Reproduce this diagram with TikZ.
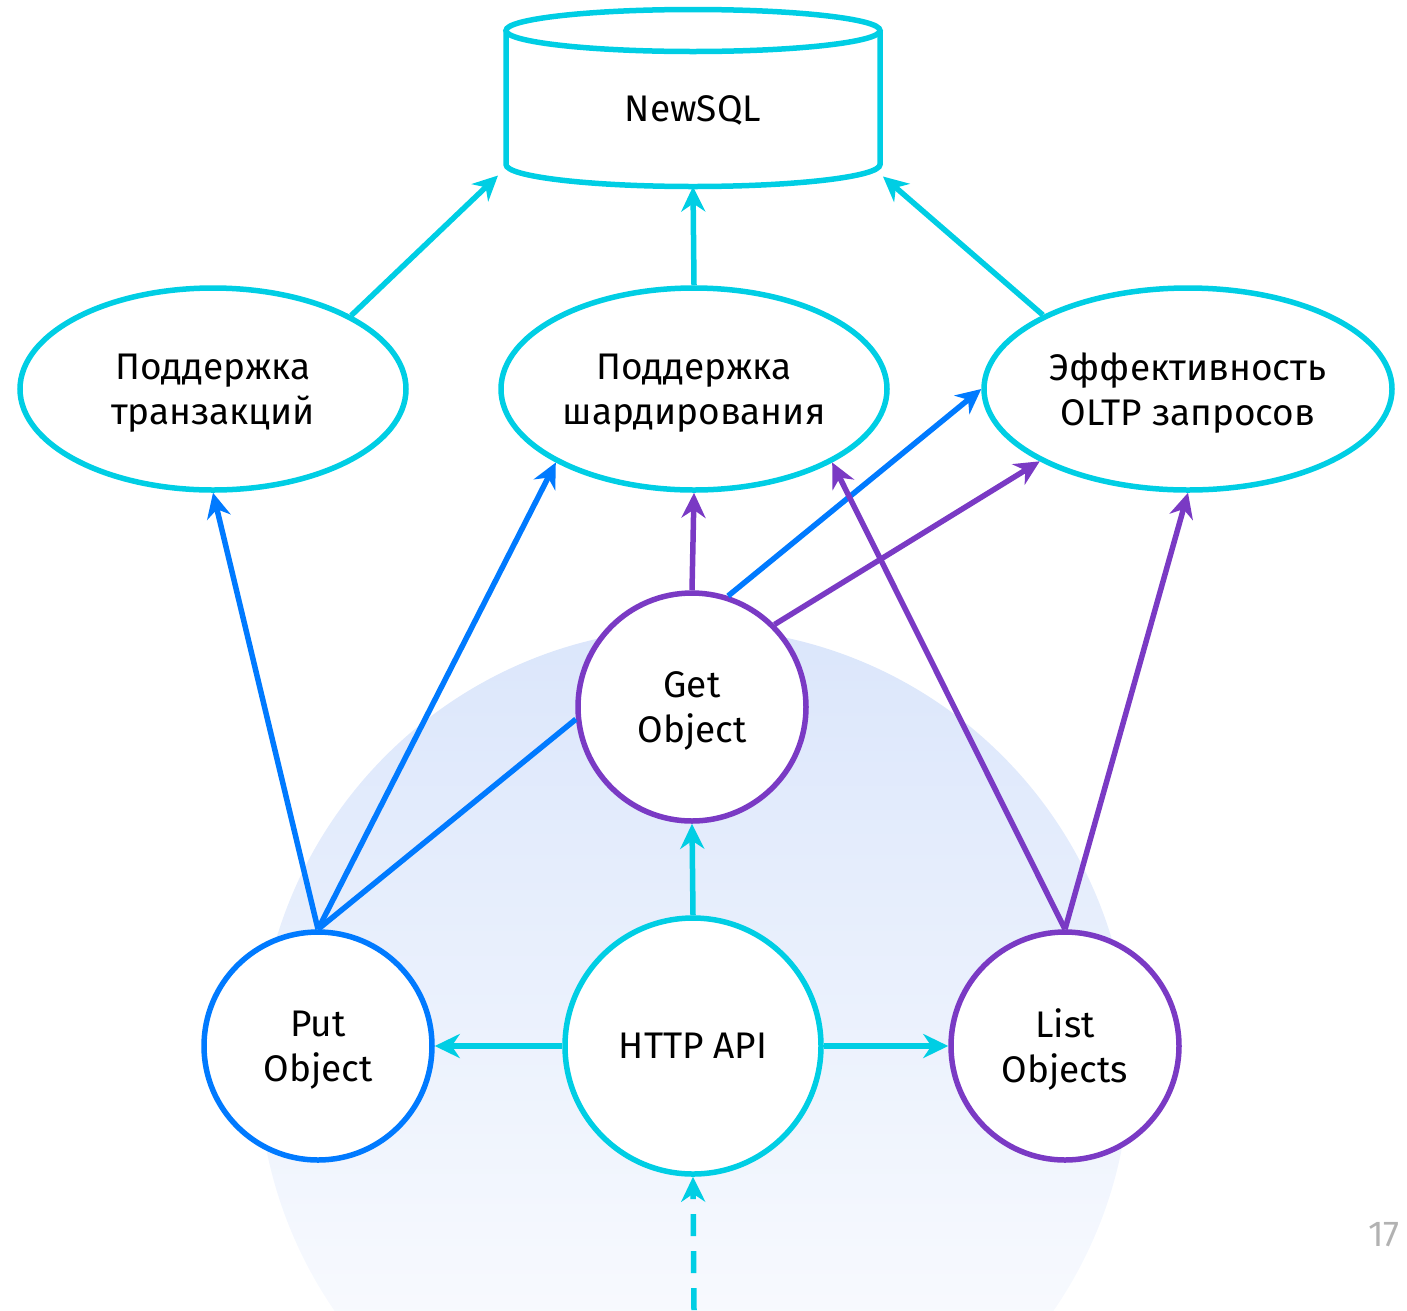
\documentclass[tikz,border=0pt]{standalone}
\usepackage{fontspec}
\setmainfont{Fira Sans}
\usetikzlibrary{arrows.meta,shapes.geometric}

\definecolor{apicyan}{RGB}{0,206,228}
\definecolor{apiblue}{RGB}{0,122,255}
\definecolor{apiviolet}{RGB}{122,58,196}
\definecolor{pagegray}{RGB}{178,178,178}
\definecolor{bgtop}{RGB}{219,230,251}

\begin{document}
\begin{tikzpicture}[x=1pt,y=-1pt,>={Stealth[length=25pt,width=24pt,inset=8pt]},
  link/.style={line width=5.5pt,->},
  feature/.style={ellipse,draw=apicyan,line width=5.5pt,fill=white,
    minimum height=202pt,inner sep=0pt,align=center,text depth=0pt},
  op/.style={circle,draw,line width=5.5pt,fill=white,
    minimum size=228pt,inner sep=0pt,align=center,text depth=0pt},
  every node/.style={font=\fontsize{37}{45}\selectfont}]
  \useasboundingbox (0,0) rectangle (1407,1310);

  % soft round backdrop behind the API nodes
  \begin{scope}
    \clip (0,0) rectangle (1407,1310);
    \shade[top color=bgtop,bottom color=white] (694,1064) circle[radius=436pt];
  \end{scope}

  % storage on top
  \node[minimum width=374pt,minimum height=177pt,inner sep=0pt,outer sep=0pt,
    text height=46pt,text depth=0pt] (newsql) at (693,98) {NewSQL};
  \draw[apicyan,line width=5.5pt] ([yshift=-21pt]newsql.north)
    ellipse[x radius=187pt,y radius=21pt];
  \draw[apicyan,line width=5.5pt] ([yshift=-21pt]newsql.north west)
    -- ([yshift=22pt]newsql.south west)
    arc[start angle=180,end angle=360,x radius=187pt,y radius=22pt]
    -- ([yshift=-21pt]newsql.north east);

  % requirements
  \node[feature,minimum width=386pt] (trans) at (213,389) {Поддержка\\транзакций};
  \node[feature,minimum width=386pt] (shard) at (694,389) {Поддержка\\шардирования};
  \node[feature,minimum width=408pt] (oltp) at (1188,389) {Эффективность\\OLTP запросов};

  % operations
  \node[op,draw=apiviolet] (get) at (692,707) {Get\\Object};
  \node[op,draw=apiblue] (put) at (318,1046) {Put\\Object};
  \node[op,draw=apicyan,minimum size=256pt] (http) at (693,1046) {HTTP API};
  \node[op,draw=apiviolet] (list) at (1065,1046) {List\\Objects};
  \coordinate (entry) at (694,1310);

  \node[text=pagegray,font=\fontsize{36}{36}\selectfont] (pagenum) at (1384,1235) {17};

  \draw[link,apicyan] (trans.28) -- ([shift={(-8pt,11pt)}]newsql.south west);
  \draw[link,apicyan] (shard.north) -- (newsql.south);
  \draw[link,apicyan] (oltp.153) -- ([shift={(3pt,10pt)}]newsql.south east);

  \draw[link,apiblue] (put.north) -- (trans.south);
  \draw[link,apiblue] (put.north) -- (shard.208);
  \draw[line width=5.5pt,apiblue] (put.north) -- (get.186);
  \draw[link,apiblue] (get.72) -- (oltp.west);

  \draw[link,apiviolet] (get.north) -- (shard.south);
  \draw[link,apiviolet] (get.45) -- (oltp.206);
  \draw[link,apiviolet] (list.north) -- (shard.332);
  \draw[link,apiviolet] (list.north) -- (oltp.south);

  \draw[link,apicyan] (http.west) -- (put.east);
  \draw[link,apicyan] (http.east) -- (list.west);
  \draw[link,apicyan] (http.north) -- (get.south);
  \draw[link,apicyan,dash pattern=on 22pt off 15pt] (entry) -- (http.south);
\end{tikzpicture}
\end{document}
